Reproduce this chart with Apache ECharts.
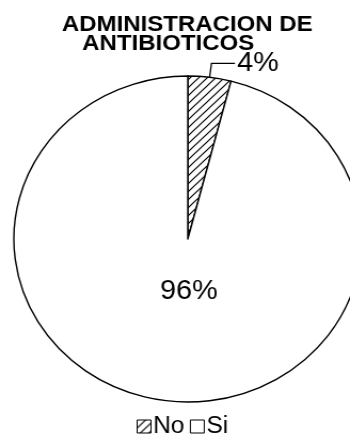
<!DOCTYPE html>
<html>
<head>
<meta charset="utf-8">
<script src="https://cdn.jsdelivr.net/npm/echarts@6/dist/echarts.min.js"></script>
<style>
  html, body { margin: 0; padding: 0; background: #fff; overflow: hidden; }
  #wrap { width: 350px; height: 442px; overflow: hidden; }
  /* the pie is drawn slightly wider than tall */
  #chart { width: 328px; height: 442px; transform: scaleX(1.067); transform-origin: 0 0; }
</style>
</head>
<body>
<div id="wrap"><div id="chart"></div></div>
<script>
// Administración de antibióticos: share of cases
const categories = ['No', 'Si'];
const values = [4, 96];
const titleLines = ['ADMINISTRACION DE', 'ANTIBIOTICOS'];

// diagonal hatch used for the "No" slice
function hatchPattern() {
  const c = document.createElement('canvas');
  const s = 8;
  c.width = s; c.height = s;
  const g = c.getContext('2d');
  g.fillStyle = '#fff';
  g.fillRect(0, 0, s, s);
  g.strokeStyle = '#000';
  g.lineWidth = 1.2;
  g.beginPath();
  g.moveTo(-1, s + 1); g.lineTo(s + 1, -1);
  g.moveTo(-1, 1); g.lineTo(1, -1);
  g.moveTo(s - 1, s + 1); g.lineTo(s + 1, s - 1);
  g.stroke();
  return c;
}

const fills = [{ image: hatchPattern(), repeat: 'repeat' }, '#ffffff'];
const font = '"Liberation Sans", Arial, sans-serif';

const data = categories.map((name, i) => ({
  name,
  value: values[i],
  itemStyle: { color: fills[i] },
  label: i === 0
    ? { show: true, position: 'outside', fontSize: 27, fontFamily: font, color: '#000' }
    : { show: true, position: 'center', offset: [1, 53], fontSize: 27, fontFamily: font, color: '#000' },
  labelLine: i === 0
    ? { show: true, length: 14, length2: 22, lineStyle: { color: '#000', width: 1.3 } }
    : { show: false }
}));

const chart = echarts.init(document.getElementById('chart'), null, { renderer: 'canvas' });
chart.setOption({
  animation: false,
  backgroundColor: '#fff',
  title: [
    { text: titleLines[0], left: 53, top: 8,
      textStyle: { fontFamily: font, fontWeight: 'bold', fontSize: 22.5, color: '#000' } },
    { text: titleLines[1], left: 72, top: 27,
      textStyle: { fontFamily: font, fontWeight: 'bold', fontSize: 22.5, color: '#000' } }
  ],
  legend: {
    data: categories,
    left: 123,
    top: 410,
    icon: 'rect',
    itemWidth: 13,
    itemHeight: 13,
    itemGap: 5,
    itemStyle: { borderColor: '#000', borderWidth: 1 },
    textStyle: { fontFamily: font, fontSize: 23, color: '#000', padding: [0, 0, 0, -3] }
  },
  series: [{
    type: 'pie',
    center: [176, 239],
    radius: 163,
    startAngle: 90,
    clockwise: true,
    avoidLabelOverlap: false,
    itemStyle: { borderColor: '#000', borderWidth: 1.4 },
    label: {
      formatter: '{d}%',
      fontFamily: font,
      fontSize: 27,
      color: '#000',
      distanceToLabelLine: 2
    },
    emphasis: { disabled: true },
    data
  }]
});
</script>
</body>
</html>
